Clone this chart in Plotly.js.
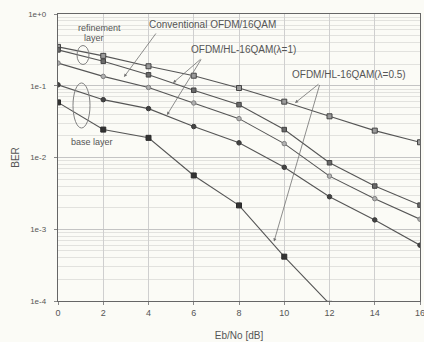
<!DOCTYPE html>
<html>
<head>
<meta charset="utf-8">
<script src="https://cdn.plot.ly/plotly-3.0.1.min.js"></script>
<style>
html,body{margin:0;padding:0;background:#fbfbf6;}
#chart{width:424px;height:342px;}
</style>
</head>
<body>
<div id="chart"></div>
<script>
// ---- data ----
const snrDb = [0, 2, 4, 6, 8, 10, 12, 14, 16];
const convBER = [0.348, 0.261, 0.187, 0.138, 0.093, 0.060, 0.0375, 0.0237, 0.0163];
const hl1RefBER = [0.316, 0.219, 0.142, 0.0866, 0.0545, 0.0245, 0.00844, 0.0040, 0.00217];
const hl05RefBER = [0.207, 0.135, 0.0947, 0.0575, 0.0348, 0.0156, 0.0055, 0.00267, 0.00138];
const hl1BaseBER = [0.103, 0.064, 0.048, 0.027, 0.016, 0.0073, 0.00284, 0.00135, 0.0006];
const hl05BaseSnr = [0, 2, 4, 6, 8, 10, 12];
const hl05BaseBER = [0.0586, 0.0245, 0.0188, 0.00562, 0.00215, 0.000415, 0.0000912];

const xTickVals = [0, 2, 4, 6, 8, 10, 12, 14, 16];
const yTickVals = [1, 0.1, 0.01, 0.001, 0.0001];
const yTickText = ['1e+0', '1e-1', '1e-2', '1e-3', '1e-4'];

const labelConv = 'Conventional OFDM/16QAM';
const labelHL1 = 'OFDM/HL-16QAM(λ=1)';
const labelHL05 = 'OFDM/HL-16QAM(λ=0.5)';

// minor grid values (2..9 per decade)
const minorVals = [];
[1e-4, 1e-3, 1e-2, 1e-1].forEach(d => { for (let k = 2; k <= 9; k++) minorVals.push(k * d); });

const lineCol = '#555555';
function tr(x, y, sym, fill, edge, size) {
  return {
    x: x, y: y, type: 'scatter', mode: 'lines+markers',
    line: {color: lineCol, width: 1.1},
    marker: {symbol: sym, size: size, color: fill, line: {color: edge, width: 1}},
    showlegend: false, hoverinfo: 'x+y'
  };
}
const traces = [
  tr(snrDb, convBER, 'square', '#9a9a9a', '#444444', 5),
  tr(snrDb, hl1RefBER, 'square', '#6a6a6a', '#444444', 4.5),
  tr(snrDb, hl05RefBER, 'circle', '#b0b0b0', '#808080', 4.5),
  tr(snrDb, hl1BaseBER, 'circle', '#444444', '#383838', 4.5),
  tr(hl05BaseSnr, hl05BaseBER, 'square', '#333333', '#2a2a2a', 5)
];

const font = {family: 'Liberation Sans, Arial, sans-serif', color: '#555555'};
function txt(t, x, y, size) {
  return {text: t, xref: 'paper', yref: 'paper', x: x, y: y, showarrow: false,
    xanchor: 'center', yanchor: 'middle', font: Object.assign({}, font, {size: size})};
}
function arr(x, y, ax, ay) {
  return {text: '', xref: 'paper', yref: 'paper', x: x, y: y, ax: ax, ay: ay,
    showarrow: true, arrowhead: 2, arrowsize: 0.8, arrowwidth: 0.8, arrowcolor: '#707070'};
}

const layout = {
  width: 424, height: 342,
  margin: {l: 58, r: 4, t: 14, b: 41},
  paper_bgcolor: '#fbfbf6', plot_bgcolor: '#fbfbf6',
  font: font,
  xaxis: {
    range: [0, 16], tickvals: xTickVals, ticks: 'outside', ticklen: 3, tickcolor: '#888',
    showgrid: true, gridcolor: '#cfcfcf', gridwidth: 1,
    showline: true, linecolor: '#666', linewidth: 1.2, mirror: true, zeroline: false,
    tickfont: {size: 9, color: '#555'}, ticklabeloverflow: 'allow',
    title: {text: 'Eb/No [dB]', font: {size: 10, color: '#555'}, standoff: 15}
  },
  yaxis: {
    type: 'log', range: [-4, 0], tickvals: yTickVals, ticktext: yTickText,
    ticks: 'outside', ticklen: 3, tickcolor: '#888',
    showgrid: true, gridcolor: '#c4c4c4', gridwidth: 1,
    minor: {tickmode: 'array', tickvals: minorVals, showgrid: true, gridcolor: '#e2e2de', gridwidth: 1, ticks: ''},
    showline: true, linecolor: '#666', linewidth: 1.2, mirror: true, zeroline: false,
    tickfont: {size: 8, color: '#555'}, ticklabelstandoff: 6,
    title: {text: 'BER', font: {size: 10, color: '#555'}, standoff: 6}
  },
  shapes: [
    {type: 'circle', xref: 'paper', yref: 'paper', x0: 0.0525, x1: 0.0856, y0: 0.8240, y1: 0.8902,
     line: {color: '#808080', width: 1}},
    {type: 'circle', xref: 'paper', yref: 'paper', x0: 0.0414, x1: 0.0884, y0: 0.6028, y1: 0.7596,
     line: {color: '#808080', width: 1}}
  ],
  annotations: [
    txt(labelConv, 0.4268, 0.9634, 10),
    txt(labelHL1, 0.5138, 0.8763, 10),
    txt(labelHL05, 0.8025, 0.7909, 10),
    txt('refinement', 0.1133, 0.9512, 9),
    txt('layer', 0.0994, 0.9164, 9),
    txt('base layer', 0.0953, 0.5557, 9),
    arr(0.1823, 0.7805, 33, -45),
    arr(0.3177, 0.7596, 29, -25),
    arr(0.3011, 0.6481, 35, -57),
    arr(0.6547, 0.6899, 25, -20),
    arr(0.5967, 0.2073, 46, -158)
  ]
};

Plotly.newPlot('chart', traces, layout, {staticPlot: true, displayModeBar: false});
</script>
</body>
</html>
